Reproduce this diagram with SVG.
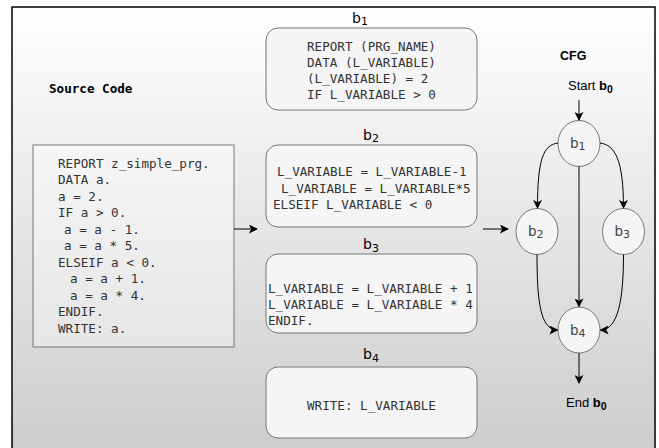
<svg xmlns="http://www.w3.org/2000/svg" width="659" height="448" viewBox="0 0 659 448">
  <defs>
    <linearGradient id="bg" x1="0" y1="0" x2="0" y2="1">
      <stop offset="0" stop-color="#ffffff"/>
      <stop offset="1" stop-color="#cbcbcb"/>
    </linearGradient>
    <linearGradient id="srcFill" x1="0" y1="0" x2="0" y2="1">
      <stop offset="0" stop-color="#f6f6f6"/>
      <stop offset="1" stop-color="#e6e6e6"/>
    </linearGradient>
    <marker id="arrow" viewBox="0 0 10 10" refX="9" refY="5" markerWidth="9" markerHeight="9" markerUnits="userSpaceOnUse" orient="auto">
      <path d="M0,0 L10,5 L0,10 L2.5,5 Z" fill="#000"/>
    </marker>
    <style>
      .mono { font-family: "DejaVu Sans Mono", "Liberation Mono", monospace; font-size: 12.6px; fill: #333; }
      .block { fill: #f5f5f5; stroke: #777; stroke-width: 1; }
      .node { fill: #f5f5f5; stroke: #777; stroke-width: 1; }
      .blabel { font-family: "DejaVu Sans", "Liberation Sans", sans-serif; font-size: 14px; fill: #000; }
      .nlabel { font-family: "DejaVu Sans", "Liberation Sans", sans-serif; font-size: 13.5px; fill: #444; }
      .sans { font-family: "Liberation Sans", Arial, sans-serif; font-size: 13px; fill: #000; }
      .edge { fill: none; stroke: #000; stroke-width: 1; marker-end: url(#arrow); }
    </style>
  </defs>

  <!-- frame -->
  <rect x="12" y="7" width="643" height="460" fill="url(#bg)" stroke="#000" stroke-width="1.5"/>

  <text x="49" y="93" class="mono" style="font-weight:bold;fill:#000">Source Code</text>

  <!-- source listing -->
  <g id="source">
    <rect x="33" y="145" width="201" height="202" fill="url(#srcFill)" stroke="#777"/>
    <text class="mono">
      <tspan x="58" y="167.5">REPORT z_simple_prg.</tspan>
      <tspan x="58" y="184">DATA a.</tspan>
      <tspan x="58" y="200.5">a = 2.</tspan>
      <tspan x="58" y="217">IF a &gt; 0.</tspan>
      <tspan x="64" y="233.5">a = a - 1.</tspan>
      <tspan x="64" y="250">a = a * 5.</tspan>
      <tspan x="58" y="266.5">ELSEIF a &lt; 0.</tspan>
      <tspan x="70" y="283">a = a + 1.</tspan>
      <tspan x="70" y="299.5">a = a * 4.</tspan>
      <tspan x="58" y="316">ENDIF.</tspan>
      <tspan x="58" y="332.5">WRITE: a.</tspan>
    </text>
  </g>

  <!-- basic blocks -->
  <g id="block-b1">
    <text x="352" y="22.5" class="blabel">b<tspan font-size="11" dy="2.5">1</tspan></text>
    <rect x="266" y="28" width="211" height="82" rx="12" class="block"/>
    <text class="mono">
      <tspan x="307" y="51">REPORT (PRG_NAME)</tspan>
      <tspan x="307" y="67">DATA (L_VARIABLE)</tspan>
      <tspan x="307" y="83">(L_VARIABLE) = 2</tspan>
      <tspan x="307" y="99">IF L_VARIABLE &gt; 0</tspan>
    </text>
  </g>

  <g id="block-b2">
    <text x="363" y="139.5" class="blabel">b<tspan font-size="11" dy="2.5">2</tspan></text>
    <rect x="266" y="145" width="211" height="82" rx="12" class="block"/>
    <text class="mono">
      <tspan x="277" y="176">L_VARIABLE = L_VARIABLE-1</tspan>
      <tspan x="281" y="192.5">L_VARIABLE = L_VARIABLE*5</tspan>
      <tspan x="273" y="209">ELSEIF L_VARIABLE &lt; 0</tspan>
    </text>
  </g>

  <g id="block-b3">
    <text x="363" y="249" class="blabel">b<tspan font-size="11" dy="2.5">3</tspan></text>
    <rect x="266" y="254" width="211" height="79" rx="12" class="block"/>
    <text class="mono">
      <tspan x="268" y="293">L_VARIABLE = L_VARIABLE + 1</tspan>
      <tspan x="268" y="309">L_VARIABLE = L_VARIABLE * 4</tspan>
      <tspan x="268" y="325">ENDIF.</tspan>
    </text>
  </g>

  <g id="block-b4">
    <text x="363" y="359" class="blabel">b<tspan font-size="11" dy="2.5">4</tspan></text>
    <rect x="266" y="367" width="211" height="71" rx="12" class="block"/>
    <text x="307" y="410" class="mono">WRITE: L_VARIABLE</text>
  </g>

  <!-- control flow graph -->
  <text x="560" y="60" class="sans" style="font-weight:bold;font-size:12.5px">CFG</text>
  <text x="568" y="90" class="sans">Start <tspan font-weight="bold">b</tspan><tspan font-weight="bold" font-size="10.5" dy="3">0</tspan></text>
  <text x="566" y="407" class="sans">End <tspan font-weight="bold">b</tspan><tspan font-weight="bold" font-size="10.5" dy="3">0</tspan></text>

  <g id="node-b1">
    <ellipse cx="579" cy="143.5" rx="21" ry="23" class="node"/>
    <text x="570" y="148" class="nlabel">b<tspan font-size="11" dy="2">1</tspan></text>
  </g>
  <g id="node-b2">
    <ellipse cx="537" cy="231.5" rx="21" ry="23" class="node"/>
    <text x="528" y="236" class="nlabel">b<tspan font-size="11" dy="2">2</tspan></text>
  </g>
  <g id="node-b3">
    <ellipse cx="623.5" cy="231.5" rx="21" ry="23" class="node"/>
    <text x="614.5" y="236" class="nlabel">b<tspan font-size="11" dy="2">3</tspan></text>
  </g>
  <g id="node-b4">
    <ellipse cx="579" cy="330" rx="21" ry="23" class="node"/>
    <text x="570" y="334.5" class="nlabel">b<tspan font-size="11" dy="2">4</tspan></text>
  </g>

  <g id="connectors">
    <path d="M234,229 H257" class="edge"/>
    <path d="M483,229 H508" class="edge"/>
    <path d="M579,100 V120" class="edge"/>
    <path d="M558,143 C543,145 537.5,160 537.5,208" class="edge"/>
    <path d="M600,143 C615,145 623.5,160 623.5,208" class="edge"/>
    <path d="M579,166.5 V306.5" class="edge"/>
    <path d="M537,254.5 C537,300 540,330 557.5,330" class="edge"/>
    <path d="M623.5,254.5 C623.5,300 618,330 600.5,330" class="edge"/>
    <path d="M579,353 V383" class="edge"/>
  </g>
</svg>
